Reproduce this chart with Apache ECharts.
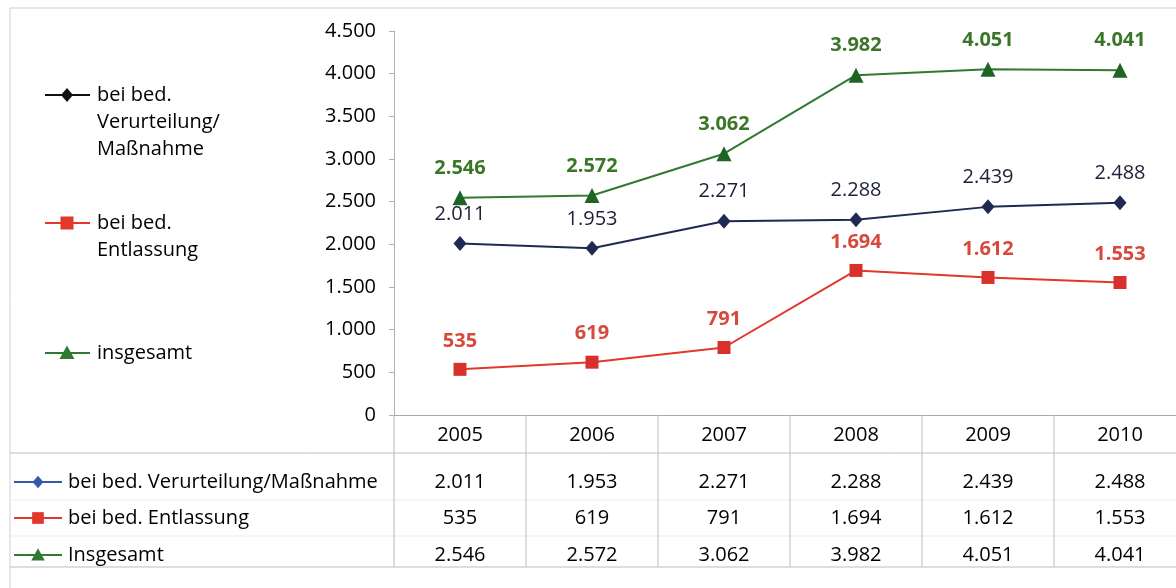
<!DOCTYPE html>
<html>
<head>
<meta charset="utf-8">
<script src="https://cdn.jsdelivr.net/npm/echarts@6/dist/echarts.min.js"></script>
<style>
  html, body { margin: 0; padding: 0; background: #ffffff; overflow: hidden; }
  #chart { width: 1190px; height: 588px; }
</style>
</head>
<body>
<div id="chart"></div>
<script>
// Jahre und Fallzahlen
const years = ['2005', '2006', '2007', '2008', '2009', '2010'];
const verurteilung = [2011, 1953, 2271, 2288, 2439, 2488];
const entlassung = [535, 619, 791, 1694, 1612, 1553];
const insgesamt = [2546, 2572, 3062, 3982, 4051, 4041];

// Achse
const yMin = 0;
const yMax = 4500;
const yStep = 500;

// Legendentexte (links, umbrochen) und Zeilenbeschriftungen der Datentabelle
const legendLabels = ['bei bed.\nVerurteilung/\nMaßnahme', 'bei bed.\nEntlassung', 'insgesamt'];
const tableLabels = ['bei bed. Verurteilung/Maßnahme', 'bei bed. Entlassung', 'Insgesamt'];

const FONT = '"Open Sans", "Noto Sans", sans-serif';
const FS = 20;
const fmt = v => {
  const s = String(Math.round(v));
  return s.replace(/\B(?=(\d{3})+(?!\d))/g, '.');
};

const seriesDefs = [
  { name: tableLabels[0], data: verurteilung, line: '#1f2a52', marker: '#1f2a52', label: '#1c2038', symbol: 'diamond', size: [13, 15], weight: 'normal', tableColor: '#3558a8', legendColor: '#111111' },
  { name: tableLabels[1], data: entlassung, line: '#e2372b', marker: '#d8302a', label: '#d6493c', symbol: 'rect', size: 13, weight: 'bold', tableColor: '#e2372b', legendColor: '#e2372b' },
  { name: tableLabels[2], data: insgesamt, line: '#2f7a30', marker: '#1f6422', label: '#3b7628', symbol: 'triangle', size: 15, weight: 'bold', tableColor: '#2f7a30', legendColor: '#2f7a30' }
];

const chart = echarts.init(document.getElementById('chart'), null, { renderer: 'canvas' });

chart.setOption({
  backgroundColor: '#ffffff',
  animation: false,
  textStyle: { fontFamily: FONT },
  grid: { left: 394, top: 31, right: 4, height: 384, containLabel: false },
  xAxis: {
    type: 'category',
    data: years,
    boundaryGap: true,
    axisLine: { show: true, lineStyle: { color: '#a8a8a8', width: 1 } },
    axisTick: { show: false },
    axisLabel: { show: true, margin: 10, color: '#000', fontSize: FS, fontFamily: FONT },
    splitLine: { show: false }
  },
  yAxis: {
    type: 'value',
    min: yMin,
    max: yMax,
    interval: yStep,
    axisLine: { show: true, lineStyle: { color: '#b0b0b0', width: 1 } },
    axisTick: { show: true, length: 5, lineStyle: { color: '#b0b0b0' } },
    axisLabel: { color: '#000', fontSize: FS, fontFamily: FONT, margin: 18, formatter: v => fmt(v) },
    splitLine: { show: false }
  },
  series: seriesDefs.map(d => ({
    name: d.name,
    type: 'line',
    data: d.data,
    symbol: d.symbol,
    symbolSize: d.size,
    lineStyle: { color: d.line, width: 2 },
    itemStyle: { color: d.marker },
    label: {
      show: true,
      position: 'top',
      distance: 12,
      color: d.label,
      fontSize: FS,
      fontWeight: d.weight,
      fontFamily: FONT,
      formatter: p => fmt(p.value)
    },
    z: 3
  }))
});

// Legende, Rahmen und Datentabelle als Grafikelemente
function buildGraphic() {
  const g = [];
  const centers = years.map((_, i) => chart.convertToPixel({ xAxisIndex: 0 }, i));
  const step = centers[1] - centers[0];
  const gridLeft = centers[0] - step / 2;
  const axisY = chart.convertToPixel({ yAxisIndex: 0 }, 0);

  // Außenrahmen
  g.push({ type: 'rect', shape: { x: 10, y: 8, width: 1200, height: 600 }, style: { fill: null, stroke: '#cfcfcf', lineWidth: 1 }, z: 0, silent: true });

  // Datentabelle: Zeilen
  const headerBottom = 453;
  const rowCenters = [482, 518, 555];
  const tableBottom = 567;
  const line = (x1, y1, x2, y2, c, w) => g.push({ type: 'line', shape: { x1, y1, x2, y2 }, style: { stroke: c, lineWidth: w || 1 }, z: 1, silent: true });

  line(10, headerBottom, 1200, headerBottom, '#bdbdbd');
  line(10, tableBottom, 1200, tableBottom, '#bdbdbd');
  line(10, 500, 1200, 500, '#ededed');
  line(10, 536, 1200, 536, '#ededed');
  // Spaltentrennlinien
  line(gridLeft, axisY, gridLeft, tableBottom, '#b8b8b8');
  for (let i = 1; i <= years.length; i++) {
    const x = gridLeft + step * i;
    line(x, axisY, x, tableBottom, '#bdbdbd');
  }

  // Tabellenzeilen: Symbol, Bezeichnung, Werte
  seriesDefs.forEach((d, r) => {
    const y = rowCenters[r];
    line(14, y, 62, y, d.tableColor, 2);
    g.push(markerShape(d.symbol, 38, y, d.tableColor, 0.9));
    g.push({ type: 'text', x: 68, y: y, style: { text: tableLabels[r], fill: '#000', font: FS + 'px ' + FONT, textVerticalAlign: 'middle', textAlign: 'left' }, z: 2 });
    d.data.forEach((v, i) => {
      g.push({ type: 'text', x: centers[i], y: y, style: { text: fmt(v), fill: '#000', font: FS + 'px ' + FONT, textVerticalAlign: 'middle', textAlign: 'center' }, z: 2 });
    });
  });

  // Legende links
  const legendY = [95, 223, 353];
  seriesDefs.forEach((d, r) => {
    const y = legendY[r];
    line(45, y, 90, y, d.legendColor, 2);
    g.push(markerShape(d.symbol, 67, y, d.legendColor, 1));
    const parts = legendLabels[r].split('\n');
    parts.forEach((t, k) => {
      g.push({ type: 'text', x: 97, y: y + k * 27, style: { text: t, fill: '#000', font: FS + 'px ' + FONT, textVerticalAlign: 'middle', textAlign: 'left' }, z: 2 });
    });
  });

  return g;
}

function markerShape(kind, cx, cy, color, s) {
  if (kind === 'diamond') {
    const w = 6 * s, h = 7 * s;
    return { type: 'polygon', shape: { points: [[cx, cy - h], [cx + w, cy], [cx, cy + h], [cx - w, cy]] }, style: { fill: color }, z: 2 };
  }
  if (kind === 'rect') {
    const a = 6.5 * s;
    return { type: 'rect', shape: { x: cx - a, y: cy - a, width: 2 * a, height: 2 * a }, style: { fill: color }, z: 2 };
  }
  const a = 7.5 * s;
  return { type: 'polygon', shape: { points: [[cx, cy - a], [cx + a, cy + a * 0.8], [cx - a, cy + a * 0.8]] }, style: { fill: color }, z: 2 };
}

chart.setOption({ graphic: buildGraphic() });
</script>
</body>
</html>
